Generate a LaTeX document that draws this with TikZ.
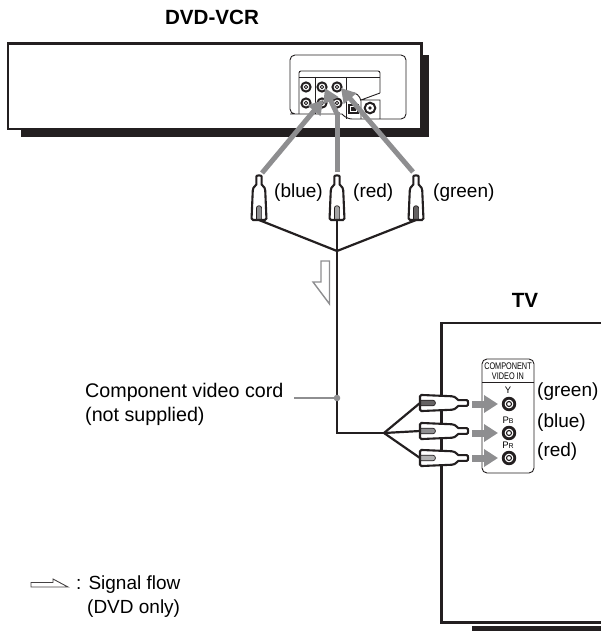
\documentclass[tikz,border=0pt]{standalone}
\usepackage{fontspec}
\setmainfont{Liberation Sans}
\usetikzlibrary{arrows.meta}
\definecolor{ink}{HTML}{231F20}
\definecolor{flow}{HTML}{8E8E90}
\tikzset{
  x=1pt,y=-1pt,
  chassis/.style={draw=ink,line width=2.4pt,line join=miter},
  shade/.style={fill=ink,draw=none},
  thin panel/.style={draw=ink,line width=.9pt},
  wire/.style={draw=ink,line width=2.2pt},
  flowline/.style={draw=flow,line width=5pt,-{Triangle[length=14pt,width=16pt]}},
  flowshort/.style={draw=flow,line width=7pt,-{Triangle[length=14pt,width=17pt]}},
  txt/.style={anchor=west,inner sep=0pt,font=\fontsize{19}{24}\selectfont},
  cordtxt/.style={anchor=west,inner sep=0pt,font=\fontsize{19.7}{24}\selectfont},
  head/.style={anchor=center,inner sep=0pt,font=\fontsize{20.6}{24}\selectfont\bfseries},
  mini/.style={anchor=center,inner sep=0pt,font=\fontsize{9.6}{10}\selectfont,xscale=.76},
  pic small/.style={anchor=center,inner sep=0pt,font=\fontsize{9.5}{10}\selectfont},
  jack/.pic={
    \draw[ink,line width=2pt] (0,0) circle (4.6);
    \draw[ink,line width=.9pt] (0,0) circle (1.7);
  },
  bigjack/.pic={
    \draw[ink,line width=2.8pt] (0,0) circle (5.8);
    \draw[ink,line width=1.1pt] (0,0) circle (2.5);
  },
  rca/.pic={
    \draw[fill=white,draw=ink,line width=2.1pt,rounded corners=1.5pt]
      (-7.5,0) -- (-6.3,-28)
      .. controls (-6,-34) and (-2.6,-34) .. (-2.6,-37) -- (-2.6,-42)
      .. controls (-2.6,-45) and (2.6,-45) .. (2.6,-42) -- (2.6,-37)
      .. controls (2.6,-34) and (6,-34) .. (6.3,-28)
      -- (7.5,0) -- cycle;
    \draw[draw=ink,line width=.7pt,fill=#1] (-2.6,-.8) -- (-2.6,-12) .. controls (-2.6,-15) and (2.6,-15) .. (2.6,-12) -- (2.6,-.8) -- cycle;
  }
}
\begin{document}
\begin{tikzpicture}
\useasboundingbox (0,0) rectangle (601,631);
% DVD-VCR
\node[head] (vcrlabel) at (212,17) {DVD-VCR};
\path[shade] (21,130.5) rectangle (428.5,137.5);
\path[shade] (423,55) rectangle (428.5,137.5);
\draw[chassis] (8,43.5) rectangle (421.5,129);
% rear panel
\draw[thin panel,rounded corners=5pt] (342,114) -- (295,114) -- (290,114) -- (290,55) -- (406,55) -- (406,119) -- (347,119) -- (342,114);
\draw[thin panel,rounded corners=2pt] (299,114) -- (299,71) -- (380,71) -- (380,93);
\draw[thin panel] (299,77) -- (380,77);
\draw[thin panel] (315,77) -- (315,114);
\draw[thin panel] (346,77) -- (346,119);
\draw[thin panel,rounded corners=2pt] (346,93) -- (356,93) -- (361,99) -- (361,119);
\draw[thin panel] (361,100) -- (380,93) (361,100) -- (380,100) -- (380,119);
\foreach \px/\py in {306/87,322/87,337/87,306/103,322/103,337/103}
  \pic at (\px,\py) {jack};
\draw[ink,line width=1.4pt] (349,105) rectangle (358,113);
\fill[ink] (351,107) rectangle (356,111);
\draw[ink,line width=2pt] (370,108) circle (5.3);
\fill[ink] (370,108) circle (1.8);
% cable plugs, top
\coordinate (bluetail) at (262,173);
\coordinate (bluetip) at (323,100);
\coordinate (redtail) at (337,172);
\coordinate (redbend) at (337,112);
\coordinate (redtip) at (325,88);
\coordinate (greentail) at (413,172);
\coordinate (greentip) at (341,88);
\draw[flowline] (bluetail) -- (bluetip);
\draw[draw=flow,line width=5pt] (redtail) -- (redbend);
\draw[flowline] (337,114) -- (redtip);
\draw[flowline] (greentail) -- (greentip);
\coordinate (blueend) at (259,220);
\coordinate (redend) at (337,220);
\coordinate (greenend) at (416,220);
\coordinate (split) at (337,251);
\coordinate (corner) at (337,433);
\coordinate (tvsplit) at (384,433);
\draw[wire] (blueend) -- (split);
\draw[wire] (greenend) -- (split);
\draw[wire] (redend) -- (split) -- (corner) -- (tvsplit);
\pic at (blueend) {rca=flow};
\pic at (redend) {rca=flow!80};
\pic at (greenend) {rca=ink!70};
\node[txt] (tblue) at (274,193) {(blue)};
\node[txt] (tred) at (353,193) {(red)};
\node[txt] (tgreen) at (433,193) {(green)};
% hollow flow arrow
\draw[draw=flow,line width=1.4pt,fill=white,miter limit=4] (321,261) -- (329.5,261) -- (329.5,304) -- (313,282) -- (321,282) -- cycle;
% TV
\node[head] (tvlabel) at (525,300) {TV};
\path[shade] (472,626) rectangle (601,631);
\draw[chassis] (601,323) -- (441.5,323) -- (441.5,622.5) -- (601,622.5);
\draw[thin panel,rounded corners=5pt] (482,359) rectangle (534,473);
\draw[thin panel] (482,382) -- (534,382);
\node[mini] (c1) at (508,366) {COMPONENT};
\node[mini] (c2) at (508,376) {VIDEO IN};
\node[pic small] (ly) at (508,390) {Y};
\node[pic small] (lb) at (508,420) {P{\fontsize{7}{8}\selectfont B}};
\node[pic small] (lr) at (508,445) {P{\fontsize{7}{8}\selectfont R}};
\pic at (509,404) {bigjack};
\pic at (509,433) {bigjack};
\pic at (509,458) {bigjack};
\node[txt] (tvg) at (537,392) {(green)};
\node[txt] (tvb) at (537,423) {(blue)};
\node[txt] (tvr) at (537,452) {(red)};
% TV plugs
\coordinate (py) at (420,403);
\coordinate (pb) at (420,431);
\coordinate (pr) at (420,458);
\draw[wire] (tvsplit) -- (py);
\draw[wire] (tvsplit) -- (pb);
\draw[wire] (tvsplit) -- (pr);
\pic[rotate=-90,xscale=1.08,yscale=1.08] at (py) {rca=ink!70};
\pic[rotate=-90,xscale=1.08,yscale=1.08] at (pb) {rca=flow};
\pic[rotate=-90,xscale=1.08,yscale=1.08] at (pr) {rca=flow!70};
\coordinate (ay) at (472,404); \coordinate (ayt) at (498,404);
\coordinate (ab) at (472,433); \coordinate (abt) at (498,433);
\coordinate (ar) at (472,458); \coordinate (art) at (498,458);
\draw[flowshort] (ay) -- (ayt);
\draw[flowshort] (ab) -- (abt);
\draw[flowshort] (ar) -- (art);
% cord label
\node[cordtxt] (cord1) at (85,392) {Component video cord};
\node[cordtxt] (cord2) at (85,416) {(not supplied)};
\coordinate (leadstart) at (294,398);
\coordinate (leaddot) at (337,398);
\draw[draw=flow,line width=1.3pt] (leadstart) -- (leaddot);
\fill[flow] (leaddot) circle (3.3);
% legend
\draw[ink!85,line width=.9pt,fill=white] (31,582.5) -- (53,582.5) -- (53,579) -- (68,587) -- (31,587) -- cycle;
\node[txt] (leg1) at (76,585) {: Signal flow};
\node[txt] (leg2) at (87,609) {(DVD only)};
\end{tikzpicture}
\end{document}
